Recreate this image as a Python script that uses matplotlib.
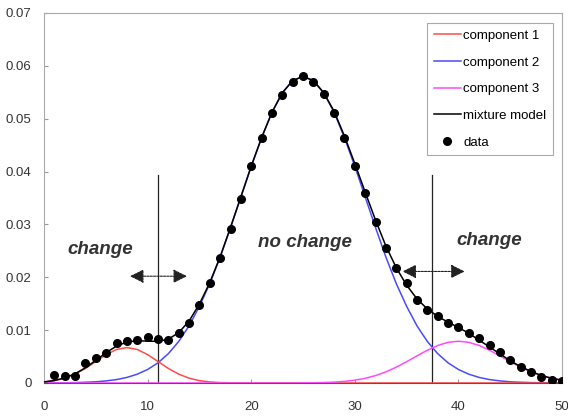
import matplotlib
matplotlib.use("Agg")
import matplotlib.pyplot as plt

plt.rcParams['font.family'] = ['Liberation Sans', 'DejaVu Sans']

# curve values at x = 0..50
x_curve = list(range(0, 51))
component_1 = [0.00019, 0.00044, 0.00091, 0.00167, 0.00275, 0.00406, 0.00536, 0.00634, 0.0067, 0.00634,
               0.00536, 0.00406, 0.00275, 0.00167, 0.00091, 0.00044, 0.00019, 0.00007, 0.00003, 0, 0,
               0, 0, 0, 0, 0, 0, 0, 0, 0, 0, 0, 0, 0, 0, 0, 0, 0, 0, 0, 0,
               0, 0, 0, 0, 0, 0, 0, 0, 0, 0]
component_2 = [0.00001, 0.00002, 0.00004, 0.00007, 0.00013, 0.00022, 0.00039, 0.00064, 0.00105, 0.00166,
               0.00255, 0.00381, 0.00554, 0.00785, 0.0108, 0.0145, 0.0188, 0.0238, 0.0294, 0.0352,
               0.0410, 0.0464, 0.0512, 0.0549, 0.0572, 0.0580, 0.0572, 0.0549, 0.0512, 0.0464,
               0.0410, 0.0352, 0.0294, 0.0238, 0.0188, 0.0145, 0.0108, 0.00785, 0.00554, 0.00381,
               0.00255, 0.00166, 0.00105, 0.00064, 0.00039, 0.00022, 0.00013, 0.00007, 0.00004, 0.00002,
               0.00001]
component_3 = [0, 0, 0, 0, 0, 0, 0, 0, 0, 0,
               0, 0, 0, 0, 0, 0, 0, 0, 0, 0,
               0, 0, 0, 0, 0, 0.00002, 0.00004, 0.00008, 0.00016, 0.0003,
               0.00053, 0.00088, 0.0014, 0.0021, 0.00299, 0.00402, 0.00513, 0.00619, 0.00709, 0.00769,
               0.0079, 0.00769, 0.00709, 0.00619, 0.00513, 0.00402, 0.00299, 0.0021, 0.0014, 0.00088,
               0.00053]
mixture = [0.0002, 0.00046, 0.00095, 0.00174, 0.00288, 0.00428, 0.00575, 0.00698, 0.00775, 0.0080,
           0.00791, 0.00787, 0.00829, 0.00952, 0.01171, 0.01494, 0.01899, 0.02387, 0.02943, 0.0352,
           0.0410, 0.0464, 0.0512, 0.0549, 0.0572, 0.0580, 0.0572, 0.0549, 0.0514, 0.0467,
           0.0415, 0.0361, 0.0308, 0.0259, 0.0218, 0.0185, 0.0159, 0.0140, 0.0126, 0.0115,
           0.0105, 0.0094, 0.0081, 0.0068, 0.0055, 0.0042, 0.0031, 0.0022, 0.0014, 0.0009,
           0.0005]

x_data = list(range(1, 51))
data = [0.0015, 0.0014, 0.0014, 0.0037, 0.0047, 0.0057, 0.0075, 0.0080, 0.0082, 0.0087,
        0.0084, 0.0082, 0.0094, 0.0113, 0.0147, 0.0189, 0.0237, 0.0291, 0.0349, 0.0410,
        0.0463, 0.0511, 0.0545, 0.0570, 0.0581, 0.0570, 0.0547, 0.0511, 0.0463, 0.0411,
        0.0359, 0.0305, 0.0255, 0.0217, 0.0189, 0.0157, 0.0138, 0.0126, 0.0114, 0.0106,
        0.0094, 0.0085, 0.0072, 0.0058, 0.0044, 0.0031, 0.0021, 0.0011, 0.0005, 0.0003]

boundaries = [11.0, 37.45]
x_ticks = [0, 10, 20, 30, 40, 50]
y_ticks = [0, 0.01, 0.02, 0.03, 0.04, 0.05, 0.06, 0.07]
y_tick_labels = ["0", "0.01", "0.02", "0.03", "0.04", "0.05", "0.06", "0.07"]

fig = plt.figure(figsize=(5.68, 4.19), dpi=100)
ax = fig.add_axes([0.0775, 0.086, 0.912, 0.883])

ax.plot(x_curve, component_2, color="#4a4aff", lw=1.1, label="component 2", zorder=2)
ax.plot(x_curve, component_1, color="#ff4a4a", lw=1.1, label="component 1", zorder=2)
ax.plot(x_curve, component_3, color="#ff4aff", lw=1.1, label="component 3", zorder=2)
ax.plot(x_curve, mixture, color="black", lw=1.1, label="mixture model", zorder=3)
ax.plot(x_data, data, "o", color="black", ms=5.5, label="data", zorder=4)

for b in boundaries:
    ax.plot([b, b], [0, 0.0393], color="#222222", lw=0.9, zorder=1)

# double arrows
for x0, x1, y in [(8.3, 13.8, 0.0202), (34.6, 40.6, 0.0211)]:
    ax.annotate("", xy=(x0, y), xytext=(x1, y),
                arrowprops=dict(arrowstyle="<|-|>,head_length=0.7,head_width=0.35",
                                color="#222222", lw=0.8, ls=(0, (2, 1)),
                                mutation_scale=12, shrinkA=0, shrinkB=0))

txt = dict(fontsize=13.5, fontweight="bold", fontstyle="italic", color="#333333",
           ha="center", va="center")
ax.text(5.4, 0.0252, "change", **txt)
ax.text(25.2, 0.0265, "no change", **txt)
ax.text(43.0, 0.0269, "change", **txt)

ax.set_xlim(0, 50)
ax.set_ylim(0, 0.07)
ax.set_xticks(x_ticks)
ax.set_yticks(y_ticks)
ax.set_yticklabels(y_tick_labels)
ax.tick_params(axis="both", labelsize=9.5, labelcolor="#333333", color="#999999",
               direction="in", length=3)
ax.tick_params(axis="x", pad=13)
ax.tick_params(axis="y", pad=9)
for side in ["left", "top", "right"]:
    ax.spines[side].set_color("#aaaaaa")
ax.spines["bottom"].set_color("#555555")

handles, labels = ax.get_legend_handles_labels()
order = [1, 0, 2, 3, 4]
leg = ax.legend([handles[i] for i in order], [labels[i] for i in order],
                loc="upper right", bbox_to_anchor=(0.9826, 0.973), fontsize=9.5,
                frameon=True, fancybox=False, edgecolor="#aaaaaa", framealpha=1,
                handlelength=2.1, handletextpad=0.15, labelspacing=1.1, borderpad=0.5,
                borderaxespad=0)
leg.get_frame().set_linewidth(0.8)

fig.savefig("out.png", dpi=100)
